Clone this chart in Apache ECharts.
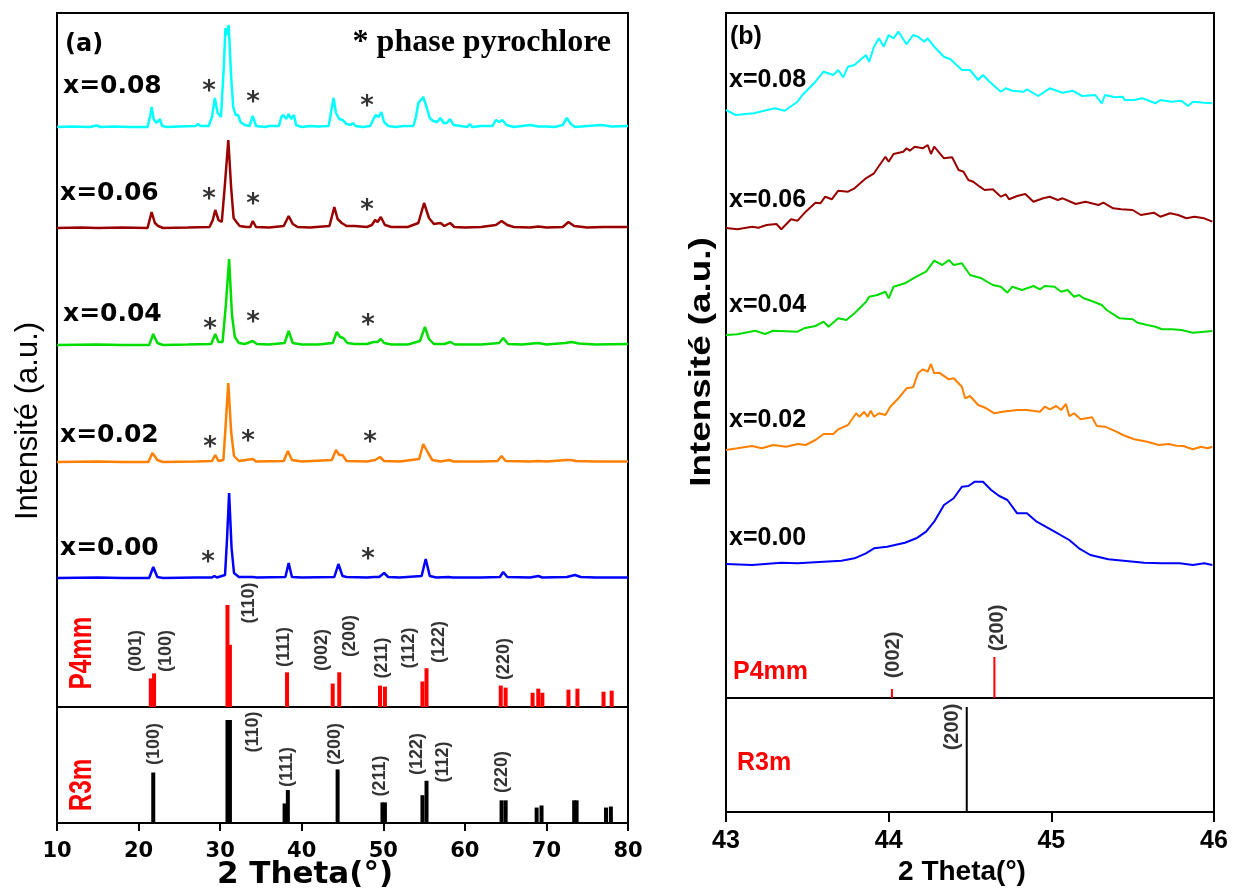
<!DOCTYPE html>
<html><head><meta charset="utf-8">
<script src="https://cdn.jsdelivr.net/npm/echarts@6/dist/echarts.min.js"></script>
<style>html,body{margin:0;padding:0;background:#fff}#c{width:1240px;height:888px}</style>
</head><body><div id="c"></div>
<script>
// ---------------- data ----------------
const compositions = ['x=0.00', 'x=0.02', 'x=0.04', 'x=0.06', 'x=0.08'];

// full-range patterns, [2θ, intensity above own baseline] (a.u.)
const xrd000 = [[10,0],[15,0.5],[18,0],[21.3,0],[21.8,11],[22.3,1],[23,0],[27,0.5],[29.0,0.5],[29.3,2],[29.6,0.5],[30.6,3],[30.85,40],[31.1,85],[31.4,30],[31.7,5],[32.3,1],[34.0,1],[34.5,0.5],[38.0,1],[38.4,15],[38.8,1],[40,0.5],[44.0,1],[44.5,14],[45.0,2],[45.5,1],[48,0.5],[48.9,1],[49.5,1],[50.1,5],[50.6,1],[52,0.5],[54.7,2],[55.2,19],[55.7,2],[56.5,0.5],[58,1],[58.5,0.5],[62,0.5],[64.3,1],[64.7,6],[65.2,1],[68,0.5],[69,2],[69.5,0.5],[72.5,1],[73.5,3],[74.2,1],[76,0.5],[80,0.5]];
const xrd002 = [[10,0],[15,0.5],[18,0],[21.2,0],[21.7,9],[22.3,2],[23,0],[27,0.5],[29.0,1],[29.4,7],[29.8,1],[30.4,2],[30.7,40],[31.0,79],[31.35,30],[31.7,6],[32.3,1],[34.0,3],[34.4,0.5],[37.8,1],[38.3,11],[38.8,2],[40,0.5],[43.7,2],[44.2,12],[44.6,7],[45.0,7],[45.5,1],[48,0.5],[49.0,2],[49.2,1],[49.6,5],[50.1,1],[52,0.5],[54.4,3],[54.9,18],[55.5,9],[56.0,2],[57,0.5],[58.1,2],[58.6,0.5],[62,0.5],[64.0,1],[64.5,6],[65.0,1],[68,0.5],[69,1],[70,0.5],[72.5,2],[73.0,2],[73.6,1],[76,0.5],[80,0.5]];
const xrd004 = [[10,0],[15,0.5],[18,0],[21.3,0],[21.8,11],[22.3,2],[23,0],[26,0.5],[28.9,1],[29.4,11],[29.8,3],[30.3,3],[30.7,40],[31.1,86],[31.45,30],[31.8,8],[32.3,2],[33,1],[34.0,4],[34.5,1],[36,0.5],[37.9,2],[38.4,14],[38.9,2],[40,0.5],[42,0.5],[43.8,2],[44.3,13],[44.7,8],[45.1,7],[45.6,2],[46.5,1],[48,1],[48.8,3],[49.0,4],[49.3,3],[49.7,6],[50.1,2],[51,0.5],[53,0.5],[54.5,4],[55.1,18],[55.6,6],[56.2,1],[57.5,1],[58.2,3],[58.8,0.5],[62,0.5],[64.2,2],[64.7,7],[65.3,1],[67,0.5],[69,2],[70,0.5],[72.3,2],[73.1,3],[74,1.5],[76,0.5],[80,1]];
const xrd006 = [[10,0],[13,0.5],[15,0],[18,0.5],[21.1,0],[21.6,16],[22.0,5],[22.4,2],[23,0],[26,0.5],[28.7,1],[29.1,8],[29.4,18],[29.8,8],[30.2,6],[30.6,45],[31.0,88],[31.35,40],[31.65,10],[32.0,6],[32.4,2],[33.2,1],[33.7,1],[34.0,7],[34.4,1],[36,0.5],[37.8,2],[38.4,12],[38.9,4],[39.5,1],[41,0.5],[43.4,2],[44.0,21],[44.4,9],[44.9,5],[45.5,2],[46.5,2],[48,1],[48.6,3],[49.0,8],[49.3,6],[49.7,11],[50.2,3],[51,1],[53,1],[54.3,5],[55.0,25],[55.6,10],[56.2,4],[57.0,5],[57.5,2],[58.2,5],[58.7,1],[60,0.5],[62,1],[63.8,3],[64.5,7],[65.2,3],[66,1],[68,0.5],[69,1.5],[70,0.5],[72,1],[72.7,6],[73.4,2],[75,0.5],[77,1],[80,1]];
const xrd008 = [[10,0],[12,0.5],[14,0],[14.9,1.5],[15.3,0],[17,0.5],[19,0],[21.1,0],[21.45,12],[21.6,20],[21.85,8],[22.2,4],[22.6,8],[22.9,1],[23.5,0],[25,0.5],[27,1],[27.3,3],[27.6,1],[28.6,1],[29.0,10],[29.35,29],[29.7,14],[30.1,10],[30.45,60],[30.65,99],[30.85,92],[31.05,102],[31.35,50],[31.6,20],[31.9,12],[32.2,12],[32.5,5],[33.0,2],[33.6,1],[34.0,11],[34.4,1],[35.5,0],[36,1],[37.2,1],[37.5,10],[37.75,12],[38.1,8],[38.4,13],[38.7,8],[39.05,12],[39.3,2],[40,0],[41,1],[42,0.5],[43.3,1],[43.6,15],[43.9,29],[44.2,14],[44.6,8],[45.0,7],[45.5,3],[46.0,2],[46.3,4],[46.6,1],[47.5,0],[48.4,1],[48.8,8],[49.1,12],[49.4,10],[49.75,15],[50.1,5],[50.6,1],[51.5,0],[52.5,1],[53.7,1],[54.0,10],[54.3,24],[54.9,30],[55.3,20],[55.7,9],[56.1,6],[56.6,5],[57.0,9],[57.4,4],[57.8,4],[58.2,8],[58.6,2],[59.5,1],[60.3,0],[60.6,3],[60.9,0],[62,1],[63.4,1],[63.8,7],[64.2,5],[64.6,7],[65.1,2],[66,0],[67,1],[68,2],[69,0.5],[70,0.5],[71,0],[72.0,2],[72.5,9],[73.0,3],[73.5,0],[75,1],[76.8,2],[78,0.5],[80,1]];
const wideOffsets = [35, 151, 268, 385, 486];

// pyrochlore reflections marked with '*': [2θ, stacked level]
const pyroMarks = [[28.51,50],[48.13,53],[28.76,165],[33.42,171],[48.37,170],[28.76,283],[34.03,290],[48.13,287],[28.63,413],[34.03,408],[48.0,402],[28.63,521],[34.03,510],[48.0,506]];

// reference patterns (relative intensity)
const p4mmSticks = [[21.5,28],[21.9,33],[30.9,100],[31.2,61],[38.2,34],[43.8,23],[44.6,34],[49.6,21],[50.2,20],[54.8,25],[55.3,38],[64.4,21],[65.0,19],[68.3,14],[69.0,18],[69.5,14],[72.7,17],[73.8,18],[77.0,15],[78.0,16]];
const r3mSticks = [[21.8,49],[30.9,100],[31.2,100],[37.9,19],[38.3,32],[44.4,52],[49.9,20],[50.2,20],[54.8,27],[55.3,41],[64.5,22],[65.0,22],[68.8,15],[69.4,17],[73.4,22],[73.7,22],[77.3,15],[77.9,16]];
const p4mmHkl = [['(001)',19.69,54.9],['(100)',23.36,54.9],['(110)',33.54,101.9],['(111)',37.83,58.8],['(002)',42.49,55.9],['(200)',45.92,69.6],['(211)',49.84,48],['(112)',53.15,57.8],['(122)',56.83,63.7],['(220)',64.80,47]];
const r3mHkl = [['(100)',21.89,76.7],['(110)',34.03,88.4],['(111)',38.20,54.4],['(200)',44.08,76.7],['(211)',49.60,45.6],['(122)',54.13,67],['(112)',57.32,59.2],['(220)',64.55,49.5]];

// 43–46° detail of the (200) region
const zoom000 = [[43.00,0],[43.16,-1],[43.34,1.3],[43.44,0.7],[43.60,2.3],[43.71,3.3],[43.79,5.7],[43.86,10.7],[43.91,15.7],[43.99,17.3],[44.10,21.3],[44.17,25.7],[44.23,32.3],[44.28,42.3],[44.34,59],[44.40,65.7],[44.45,77.3],[44.49,78],[44.53,82.3],[44.58,82.3],[44.63,74],[44.68,68],[44.73,64],[44.79,50.7],[44.85,50.7],[44.91,42.3],[45.02,32.3],[45.11,24],[45.17,15.7],[45.24,9],[45.35,4.7],[45.46,3],[45.57,1.3],[45.68,0.7],[45.79,0.7],[45.87,-1],[45.94,0.7],[45.99,-1]];
const zoom002 = [[43.00,0],[43.07,1.7],[43.16,4],[43.22,1.7],[43.29,5],[43.37,3.3],[43.44,6],[43.49,5],[43.55,10],[43.60,16],[43.66,16],[43.69,20.7],[43.75,25],[43.80,36.7],[43.82,33.3],[43.85,38.3],[43.87,33.3],[43.89,39.3],[43.91,33.3],[43.94,36.7],[43.98,35],[44.01,43.3],[44.06,51.7],[44.11,61.7],[44.15,62.7],[44.18,76.7],[44.21,80.7],[44.24,78.3],[44.26,86],[44.28,76.7],[44.31,77.3],[44.37,70.7],[44.40,71.7],[44.45,63.3],[44.47,51.7],[44.50,54],[44.55,45],[44.60,41.7],[44.65,36.7],[44.70,38.3],[44.79,40],[44.85,40],[44.93,38.3],[44.96,43.3],[44.99,40.7],[45.03,44],[45.06,40],[45.09,46],[45.11,34],[45.14,36.7],[45.18,30.7],[45.25,32.7],[45.28,24],[45.33,23.3],[45.40,18.3],[45.44,15],[45.51,10.7],[45.59,8.3],[45.66,5],[45.72,6],[45.77,4.3],[45.81,4],[45.87,0.7],[45.92,3.3],[45.96,1.7],[45.99,3.3]];
const zoom004 = [[43.00,0],[43.07,0.7],[43.18,4.3],[43.24,1],[43.29,4.3],[43.44,3.3],[43.48,6.7],[43.55,9],[43.60,13.3],[43.63,8.3],[43.69,16.7],[43.74,15],[43.79,21.7],[43.86,33],[43.88,38.3],[43.93,40],[43.98,43.3],[44.00,36.7],[44.03,48.3],[44.10,51.7],[44.17,58.3],[44.23,63.3],[44.28,74.3],[44.33,70],[44.37,75],[44.40,70],[44.45,71.7],[44.50,60],[44.57,56.7],[44.64,50],[44.69,48.3],[44.73,42.3],[44.76,48.3],[44.82,45],[44.89,49],[44.93,45.7],[44.96,49],[45.02,48.3],[45.06,43.3],[45.10,45],[45.14,38.3],[45.17,40],[45.20,36.7],[45.26,33.3],[45.31,30],[45.34,25],[45.42,16.7],[45.50,15.7],[45.53,12.3],[45.59,10],[45.64,8.3],[45.68,5.7],[45.74,5.7],[45.80,5],[45.87,2.3],[45.94,3.3],[45.99,4]];
const zoom006 = [[43.00,0],[43.07,-1.3],[43.16,1.3],[43.20,0.3],[43.25,3],[43.31,4],[43.34,-1.3],[43.40,8.7],[43.44,7.3],[43.49,16.3],[43.55,25.3],[43.58,24.7],[43.61,31.3],[43.65,28.7],[43.69,37.3],[43.75,36.3],[43.79,39.7],[43.86,49.7],[43.91,54.7],[43.94,62],[43.98,71.3],[44.00,66.3],[44.03,74],[44.09,76.3],[44.11,79.7],[44.13,77.3],[44.16,81.3],[44.21,79.7],[44.24,83],[44.26,74],[44.28,81.3],[44.34,69.7],[44.39,70.7],[44.43,58],[44.46,56.3],[44.49,48],[44.52,46.3],[44.56,41.3],[44.59,38],[44.64,38.7],[44.69,31.3],[44.72,33.7],[44.74,28.7],[44.79,32],[44.84,34],[44.89,26.3],[44.95,29.7],[44.99,31.3],[45.04,28],[45.07,29.7],[45.15,24],[45.21,26.3],[45.29,23],[45.32,25.3],[45.38,19.7],[45.43,18.7],[45.50,18],[45.55,13],[45.63,15.3],[45.67,11.3],[45.73,14.7],[45.78,13],[45.83,9.7],[45.88,11.3],[45.94,9.7],[45.99,6.3]];
const zoom008 = [[43.00,0],[43.06,-5],[43.17,-3.3],[43.30,1.7],[43.36,-0.7],[43.44,8.3],[43.47,15],[43.55,28.3],[43.60,38.3],[43.66,35],[43.69,40],[43.72,32.7],[43.75,43.3],[43.79,45],[43.86,55],[43.88,48.3],[43.91,63.3],[43.94,71.7],[43.97,63.3],[44.00,75],[44.03,71.7],[44.06,78.3],[44.07,77.7],[44.11,65.7],[44.15,75],[44.18,73.3],[44.22,68.3],[44.24,71.7],[44.28,63.3],[44.34,53.3],[44.38,50.7],[44.45,40],[44.50,40],[44.55,30],[44.58,35],[44.62,28.3],[44.69,18.3],[44.72,21.7],[44.76,19.3],[44.83,18.3],[44.85,20.7],[44.92,14],[44.99,21.7],[45.07,17.3],[45.13,19.3],[45.19,14],[45.27,15],[45.31,6.7],[45.33,15],[45.39,12.7],[45.44,13.3],[45.45,10],[45.51,10],[45.56,11.7],[45.64,6.7],[45.67,10],[45.74,8.3],[45.80,9.3],[45.84,4],[45.87,8.3],[45.94,7.3],[45.99,6.7]];
const zoomOffsets = [49, 163, 278, 385, 503];

const zoomP4mmSticks = [[44.02,9],[44.65,41]];
const zoomR3mSticks = [[44.48,105]];
const zoomP4mmHkl = [['(002)',44.027,43],['(200)',44.666,70]];
const zoomR3mHkl = [['(200)',44.392,85]];

const axisA = {min: 10, max: 80, step: 10};
const axisB = {min: 43, max: 46, step: 1};

// ---------------- styling ----------------
const lineColors = ['#0000ff', '#ff8000', '#00dd00', '#990000', '#00ffff'];
const BLACK = '#000';
const RED = '#ff0000';

// ---------------- layout ----------------
const A = {left: 57, width: 571, top: 13, patH: 600, p4Top: 590, p4H: 117, r3Top: 707, r3H: 116};
const B = {left: 726, width: 488, top: 13, patH: 600, p4Top: 590, p4H: 108, r3Top: 698, r3H: 114};

const grids = [
  {left: A.left, top: A.top, width: A.width, height: A.r3Top + A.r3H - A.top, show: true, borderColor: BLACK, borderWidth: 2},
  {left: A.left, top: A.top, width: A.width, height: A.patH},
  {left: A.left, top: A.p4Top, width: A.width, height: A.p4H},
  {left: A.left, top: A.r3Top, width: A.width, height: A.r3H, show: true, borderColor: BLACK, borderWidth: 2},
  {left: B.left, top: B.top, width: B.width, height: B.r3Top + B.r3H - B.top, show: true, borderColor: BLACK, borderWidth: 2},
  {left: B.left, top: B.top, width: B.width, height: B.patH},
  {left: B.left, top: B.p4Top, width: B.width, height: B.p4H},
  {left: B.left, top: B.r3Top, width: B.width, height: B.r3H, show: true, borderColor: BLACK, borderWidth: 2}
];
grids.forEach(g => { g.containLabel = false; if (g.show) g.backgroundColor = 'transparent'; });

function hiddenX(i, ax) { return {type: 'value', gridIndex: i, min: ax.min, max: ax.max, show: false}; }
function shownX(i, ax, fontFamily, fontSize, tickLen, margin) {
  return {
    type: 'value', gridIndex: i, min: ax.min, max: ax.max, interval: ax.step,
    axisLine: {show: true, onZero: false, lineStyle: {color: BLACK, width: 2}},
    axisTick: {show: true, inside: false, length: tickLen, lineStyle: {color: BLACK, width: 2}},
    axisLabel: {color: BLACK, fontFamily, fontWeight: 'bold', fontSize, margin},
    splitLine: {show: false}
  };
}
const xAxes = [
  hiddenX(0, axisA), hiddenX(1, axisA), hiddenX(2, axisA),
  shownX(3, axisA, 'DejaVu Sans', 21, 8, 18),
  hiddenX(4, axisB), hiddenX(5, axisB), hiddenX(6, axisB),
  shownX(7, axisB, 'Liberation Sans', 25, 10, 17)
];
const yMax = [1, A.patH, 114.7, 112.6, 1, B.patH, B.p4H, B.r3H];
const yAxes = yMax.map((m, i) => ({type: 'value', gridIndex: i, min: 0, max: m, show: false}));

const series = [];
const wide = [xrd000, xrd002, xrd004, xrd006, xrd008];
wide.forEach((d, k) => series.push({
  type: 'line', name: compositions[k], xAxisIndex: 1, yAxisIndex: 1, showSymbol: false, animation: false,
  lineStyle: {color: lineColors[k], width: 2.5}, data: d.map(p => [p[0], p[1] + wideOffsets[k]])
}));
const zoomed = [zoom000, zoom002, zoom004, zoom006, zoom008];
zoomed.forEach((d, k) => series.push({
  type: 'line', name: compositions[k] + ' (200)', xAxisIndex: 5, yAxisIndex: 5, showSymbol: false, animation: false,
  lineStyle: {color: lineColors[k], width: 2}, data: d.map(p => [p[0], p[1] + zoomOffsets[k]])
}));

function sticks(xi, data, color, w) {
  return {type: 'bar', xAxisIndex: xi, yAxisIndex: xi, barWidth: w, animation: false,
    itemStyle: {color}, data, silent: true};
}
series.push(sticks(2, p4mmSticks, RED, 4));
series.push(sticks(3, r3mSticks, BLACK, 4));
series.push(sticks(6, zoomP4mmSticks, RED, 2));
series.push(sticks(7, zoomR3mSticks, BLACK, 2));

function labels(xi, list, font, size, rotate) {
  return {type: 'scatter', xAxisIndex: xi, yAxisIndex: xi, symbolSize: 0, animation: false, silent: true,
    data: list.map(r => ({name: r[0], value: [r[1], r[2]]})),
    label: {show: true, position: 'inside', rotate, formatter: '{b}', color: BLACK,
      textBorderWidth: 0, fontFamily: font, fontWeight: 'bold', fontSize: size}};
}
series.push(labels(2, p4mmHkl, 'Liberation Sans', 18, 90));
series.push(labels(3, r3mHkl, 'Liberation Sans', 18, 90));
series.push(labels(6, zoomP4mmHkl, 'Liberation Sans', 20, 90));
series.push(labels(7, zoomR3mHkl, 'Liberation Sans', 20, 90));
series.push(labels(1, pyroMarks.map(p => ['*', p[0], p[1]]), 'DejaVu Sans', 26, 0));

// ---------------- text annotations ----------------
function txt(x, y, text, o) {
  return Object.assign({type: 'text', x, y, silent: true,
    style: Object.assign({text, fill: BLACK, textAlign: 'left', textVerticalAlign: 'middle'}, o.style)}, o.el || {});
}
const wideLabelY = [548, 435, 314, 193, 86];
const wideLabelX = [60, 60, 63, 60, 63];
const zoomLabelY = [538, 420, 305, 200, 80];
const graphic = [];
compositions.forEach((c, k) => {
  graphic.push(txt(wideLabelX[k], wideLabelY[k], c, {style: {font: 'bold 25px "DejaVu Sans"'}}));
  graphic.push(txt(729, zoomLabelY[k], c, {style: {font: 'bold 25px "Liberation Sans"'}}));
});
graphic.push(txt(65, 45, '(a)', {style: {font: 'bold 24px "DejaVu Sans"'}}));
graphic.push(txt(730, 37, '(b)', {style: {font: 'bold 25px "Liberation Sans"'}}));
graphic.push(txt(611, 43, '* phase pyrochlore', {style: {font: 'bold 32px "Liberation Serif"', textAlign: 'right'}}));
graphic.push(txt(28, 421, 'Intensité (a.u.)', {style: {font: '31px "Liberation Sans"', textAlign: 'center'}, el: {rotation: Math.PI / 2}}));
graphic.push(txt(702, 362, 'Intensité (a.u.)', {style: {font: 'bold 29px "Liberation Sans"', textAlign: 'center'}, el: {rotation: Math.PI / 2, scaleX: 1.27}}));
graphic.push(txt(305, 875, '2 Theta(°)', {style: {font: 'bold 31px "DejaVu Sans"', textAlign: 'center'}}));
graphic.push(txt(962, 872, '2 Theta(°)', {style: {font: 'bold 28px "Liberation Sans"', textAlign: 'center'}}));
graphic.push(txt(82, 653, 'P4mm', {style: {font: 'bold 32px "Liberation Sans"', fill: RED, textAlign: 'center'}, el: {rotation: Math.PI / 2, scaleX: 0.76}}));
graphic.push(txt(82, 785, 'R3m', {style: {font: 'bold 32px "Liberation Sans"', fill: RED, textAlign: 'center'}, el: {rotation: Math.PI / 2, scaleX: 0.76}}));
graphic.push(txt(733, 672, 'P4mm', {style: {font: 'bold 25px "Liberation Sans"', fill: RED}}));
graphic.push(txt(737, 763, 'R3m', {style: {font: 'bold 25px "Liberation Sans"', fill: RED}}));

const chart = echarts.init(document.getElementById('c'), null, {renderer: 'canvas'});
chart.setOption({
  backgroundColor: '#fff', animation: false,
  grid: grids, xAxis: xAxes, yAxis: yAxes, series, graphic
});
</script></body></html>
